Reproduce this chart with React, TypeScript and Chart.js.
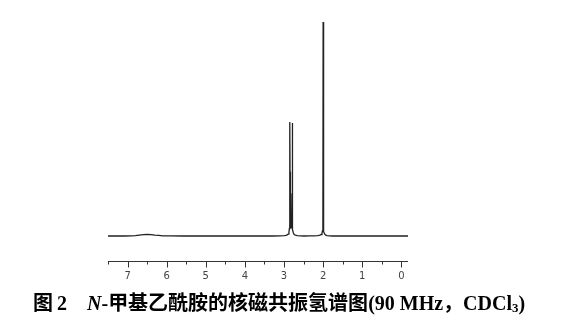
import React, { useEffect, useRef } from "react";
import { Chart, registerables } from "chart.js";

Chart.register(...registerables);

// Chemical shift (ppm) and relative intensity of the 1H NMR trace
const shiftPpm = [
  7.5, 7.3, 7.1, 6.9, 6.8, 6.7, 6.6, 6.5, 6.4, 6.3, 6.2, 6.1, 5.9, 5.6, 5.3, 5.0, 4.7, 4.4,
  4.1, 3.8, 3.5, 3.3, 3.1, 3.0, 2.95, 2.92, 2.895, 2.875, 2.862, 2.855, 2.85, 2.846, 2.835,
  2.82, 2.805, 2.795, 2.79, 2.787, 2.784, 2.774, 2.76, 2.74, 2.71, 2.66, 2.58, 2.48, 2.36,
  2.24, 2.14, 2.08, 2.05, 2.03, 2.015, 2.006, 2.0, 1.996, 1.99, 1.978, 1.962, 1.94,
  1.9, 1.84, 1.76, 1.6, 1.4, 1.2, 1.0, 0.8, 0.6, 0.4, 0.2, 0.0, -0.17,
];
const intensity = [
  0, 0.1, 0, 0.1, 0.2, 0.4, 0.6, 0.7, 0.6, 0.4, 0.3, 0.1, 0.1, 0, 0.1, 0, 0, 0.1,
  0, 0, 0.1, 0, 0.1, 0.2, 0.3, 0.5, 0.9, 1.6, 3.5, 10, 53.3, 30, 6,
  3.8, 6, 20, 52.8, 31, 9, 3, 1.4, 0.7, 0.4, 0.2, 0.1, 0, 0.1,
  0.1, 0.2, 0.4, 0.7, 1.2, 2.5, 9, 100, 29, 6, 2, 1, 0.5,
  0.2, 0.1, 0, 0.1, 0, 0, 0.1, 0, 0, 0.1, 0, 0, 0,
];
// Axis tick positions (ppm); labels only at whole numbers
const tickValues = [7.5, 7, 6.5, 6, 5.5, 5, 4.5, 4, 3.5, 3, 2.5, 2, 1.5, 1, 0.5, 0];
const tickLabels = ["7", "6", "5", "4", "3", "2", "1", "0"];

const axisPlugin = {
  id: "nmrAxis",
  afterDraw(chart: any) {
    const { ctx, chartArea } = chart;
    const xs = chart.scales.x;
    const y = chartArea.bottom - 0.5;
    ctx.save();
    ctx.strokeStyle = "#333";
    ctx.lineWidth = 1;
    ctx.beginPath();
    ctx.moveTo(chartArea.left, y);
    ctx.lineTo(chartArea.right, y);
    for (const t of xs.ticks) {
      const px = Math.round(xs.getPixelForValue(t.value)) + 0.5;
      const major = Number.isInteger(t.value);
      ctx.moveTo(px, y);
      ctx.lineTo(px, y + (major ? 6 : 3));
    }
    ctx.stroke();
    ctx.restore();
  },
};

export default function App() {
  const ref = useRef<HTMLCanvasElement>(null);
  useEffect(() => {
    if (!ref.current) return;
    const chart = new Chart(ref.current, {
      type: "line",
      data: {
        datasets: [
          {
            data: shiftPpm.map((x, i) => ({ x, y: intensity[i] })),
            borderColor: "#222",
            borderWidth: 1.3,
            pointRadius: 0,
            tension: 0,
            fill: false,
          },
        ],
      },
      options: {
        animation: false,
        responsive: false,
        maintainAspectRatio: false,
        layout: { padding: { left: 108, right: 166, top: 22, bottom: 38 } },
        plugins: { legend: { display: false }, tooltip: { enabled: false }, title: { display: false } },
        scales: {
          x: {
            type: "linear",
            reverse: true,
            min: -0.17,
            max: 7.5,
            grid: { display: false, drawTicks: false },
            border: { display: false },
            afterBuildTicks: (scale: any) => {
              scale.ticks = tickValues.map((v) => ({ value: v }));
            },
            afterFit: (scale: any) => {
              scale.height = 30;
            },
            ticks: {
              autoSkip: false,
              maxRotation: 0,
              padding: 8,
              color: "#444",
              font: { family: "DejaVu Sans", size: 10 },
              callback: (v: any) => (Number.isInteger(v) ? tickLabels[7 - v] : ""),
            },
          },
          y: { display: false, min: -12.15, max: 100 },
        },
      },
      plugins: [axisPlugin],
    });
    return () => chart.destroy();
  }, []);

  return (
    <div style={{ position: "absolute", left: 0, top: 0, width: 574, height: 330, background: "#fff" }}>
      <canvas ref={ref} width={574} height={330} style={{ position: "absolute", left: 0, top: 0 }} />
      <div
        style={{
          position: "absolute",
          left: 33,
          top: 291,
          whiteSpace: "nowrap",
          fontFamily: '"Liberation Serif", "Noto Sans CJK SC", serif',
          fontWeight: 700,
          fontSize: 20,
          lineHeight: "22px",
          color: "#000",
        }}
      >
        <span style={{ fontFamily: '"Noto Sans CJK SC"' }}>图</span>
        <span style={{ marginLeft: 4 }}>2</span>
        <span style={{ marginLeft: 20, fontStyle: "italic" }}>N</span>
        <span>-</span>
        <span style={{ fontFamily: '"Noto Sans CJK SC"' }}>甲基乙酰胺的核磁共振氢谱图</span>
        <span>(90 MHz</span>
        <span style={{ fontFamily: '"Noto Sans CJK SC"' }}>，</span>
        <span>CDCl</span>
        <span style={{ fontSize: 13, verticalAlign: "-2px" }}>3</span>
        <span>)</span>
      </div>
    </div>
  );
}
